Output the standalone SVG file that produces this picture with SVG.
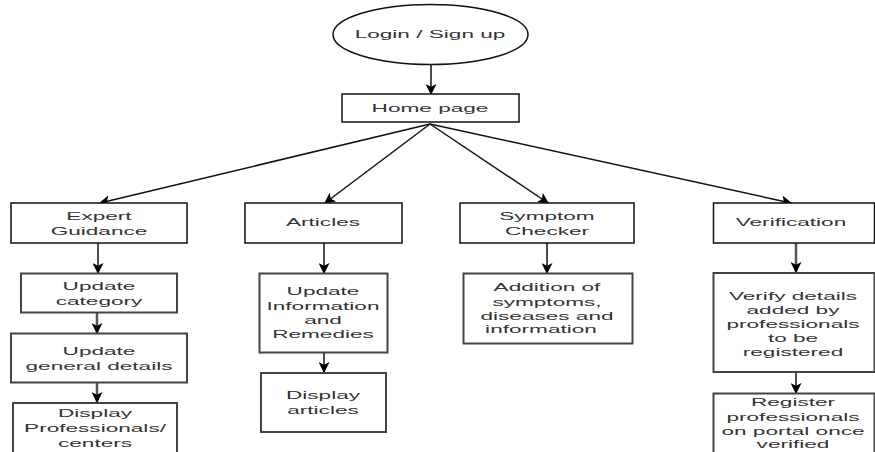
<svg xmlns="http://www.w3.org/2000/svg" width="875" height="452" viewBox="0 0 875 452">
<defs>
<style>
.box{fill:#fff;stroke:#111;stroke-width:1.5}
.sub{fill:#fff;stroke:#444;stroke-width:2}
.t{font-family:"Liberation Sans",Arial,sans-serif;font-size:11.3px;fill:#333;text-anchor:middle}
.c{fill:none;stroke:#111;stroke-width:1.5}
.g{fill:none;stroke:#555;stroke-width:2.5}
</style>
<marker id="ah" viewBox="0 0 10 10" refX="9" refY="5" markerWidth="11" markerHeight="11" markerUnits="userSpaceOnUse" orient="auto">
<path d="M0,0 L10,5 L0,10 L2.5,5 z" fill="#000"/>
</marker>
</defs>
<rect width="875" height="452" fill="#fff"/>
<g id="connectors">
<line class="c" x1="431" y1="65" x2="431" y2="94" marker-end="url(#ah)"/>
<line class="c" x1="430" y1="124" x2="100" y2="203" marker-end="url(#ah)"/>
<line class="c" x1="430" y1="124" x2="325" y2="203" marker-end="url(#ah)"/>
<line class="c" x1="430" y1="124" x2="548" y2="203" marker-end="url(#ah)"/>
<line class="c" x1="430" y1="124" x2="791" y2="203" marker-end="url(#ah)"/>
<line class="c" x1="98" y1="243" x2="98" y2="273" marker-end="url(#ah)"/>
<line class="g" x1="97" y1="313" x2="97" y2="333" marker-end="url(#ah)"/>
<line class="g" x1="97" y1="383" x2="97" y2="402" marker-end="url(#ah)"/>
<line class="c" x1="324" y1="243" x2="324" y2="273" marker-end="url(#ah)"/>
<line class="c" x1="324" y1="353" x2="324" y2="372" marker-end="url(#ah)"/>
<line class="c" x1="547" y1="243" x2="547" y2="273" marker-end="url(#ah)"/>
<line class="g" x1="796" y1="243" x2="796" y2="272" marker-end="url(#ah)"/>
<line class="c" x1="796" y1="372" x2="796" y2="393" marker-end="url(#ah)"/>
</g>
<g id="login">
<ellipse class="box" cx="430.5" cy="34.5" rx="97.5" ry="30"/>
<text class="t" transform="translate(430 0) scale(2 1)" x="0" y="38.5">Login / Sign up</text>
</g>
<g id="home">
<rect class="box" x="342" y="94" width="177" height="28"/>
<text class="t" transform="translate(430 0) scale(2 1)" x="0" y="112">Home page</text>
</g>
<g id="expert">
<rect class="box" x="11" y="203" width="176" height="40"/>
<text class="t" transform="translate(99 0) scale(2 1)" x="0" y="220.5"><tspan x="0">Expert</tspan><tspan x="0" dy="14.5">Guidance</tspan></text>
</g>
<g id="updcat">
<rect class="sub" x="21" y="273.5" width="156" height="39"/>
<text class="t" transform="translate(99 0) scale(2 1)" x="0" y="290"><tspan x="0">Update</tspan><tspan x="0" dy="15">category</tspan></text>
</g>
<g id="updgen">
<rect class="sub" x="11" y="333.5" width="176" height="49"/>
<text class="t" transform="translate(99 0) scale(2 1)" x="0" y="355"><tspan x="0">Update</tspan><tspan x="0" dy="15">general details</tspan></text>
</g>
<g id="dispprof">
<rect class="sub" x="13" y="403" width="164" height="60"/>
<text class="t" transform="translate(95 0) scale(2 1)" x="0" y="417"><tspan x="0">Display</tspan><tspan x="0" dy="14.7">Professionals/</tspan><tspan x="0" dy="15">centers</tspan></text>
</g>
<g id="articles">
<rect class="box" x="245" y="203" width="157" height="40"/>
<text class="t" transform="translate(323 0) scale(2 1)" x="0" y="226.5">Articles</text>
</g>
<g id="updinfo">
<rect class="sub" x="259.5" y="273.5" width="128" height="79"/>
<text class="t" transform="translate(323 0) scale(2 1)" x="0" y="295"><tspan x="0">Update</tspan><tspan x="0" dy="14.6">Information</tspan><tspan x="0" dy="14.4">and</tspan><tspan x="0" dy="14.4">Remedies</tspan></text>
</g>
<g id="disparticles">
<rect class="sub" x="261" y="373" width="125" height="59"/>
<text class="t" transform="translate(323 0) scale(2 1)" x="0" y="399"><tspan x="0">Display</tspan><tspan x="0" dy="15">articles</tspan></text>
</g>
<g id="symptom">
<rect class="box" x="460" y="203" width="174" height="40"/>
<text class="t" transform="translate(547 0) scale(2 1)" x="0" y="220"><tspan x="0">Symptom</tspan><tspan x="0" dy="15">Checker</tspan></text>
</g>
<g id="addition">
<rect class="sub" x="463.5" y="273.5" width="169" height="70"/>
<text class="t" transform="translate(547 0) scale(2 1)" x="0" y="291.5"><tspan x="0">Addition of</tspan><tspan x="0" dy="14.5">symptoms,</tspan><tspan x="0" dy="14">diseases and</tspan><tspan x="-3" dy="13.5">information</tspan></text>
</g>
<g id="verification">
<rect class="box" x="713.5" y="203" width="161" height="40"/>
<text class="t" transform="translate(791 0) scale(2 1)" x="0" y="226.5">Verification</text>
</g>
<g id="verify">
<rect class="sub" x="713.5" y="273" width="161" height="99"/>
<text class="t" transform="translate(793 0) scale(2 1)" x="0" y="300"><tspan x="0">Verify details</tspan><tspan x="0" dy="14.2">added by</tspan><tspan x="0" dy="14.2">professionals</tspan><tspan x="0" dy="14">to be</tspan><tspan x="0" dy="14">registered</tspan></text>
</g>
<g id="register">
<rect class="sub" x="713.5" y="393.5" width="161" height="70"/>
<text class="t" transform="translate(793 0) scale(2 1)" x="0" y="406"><tspan x="0">Register</tspan><tspan x="0" dy="15">professionals</tspan><tspan x="0" dy="14">on portal once</tspan><tspan x="0" dy="13">verified</tspan></text>
</g>
</svg>
